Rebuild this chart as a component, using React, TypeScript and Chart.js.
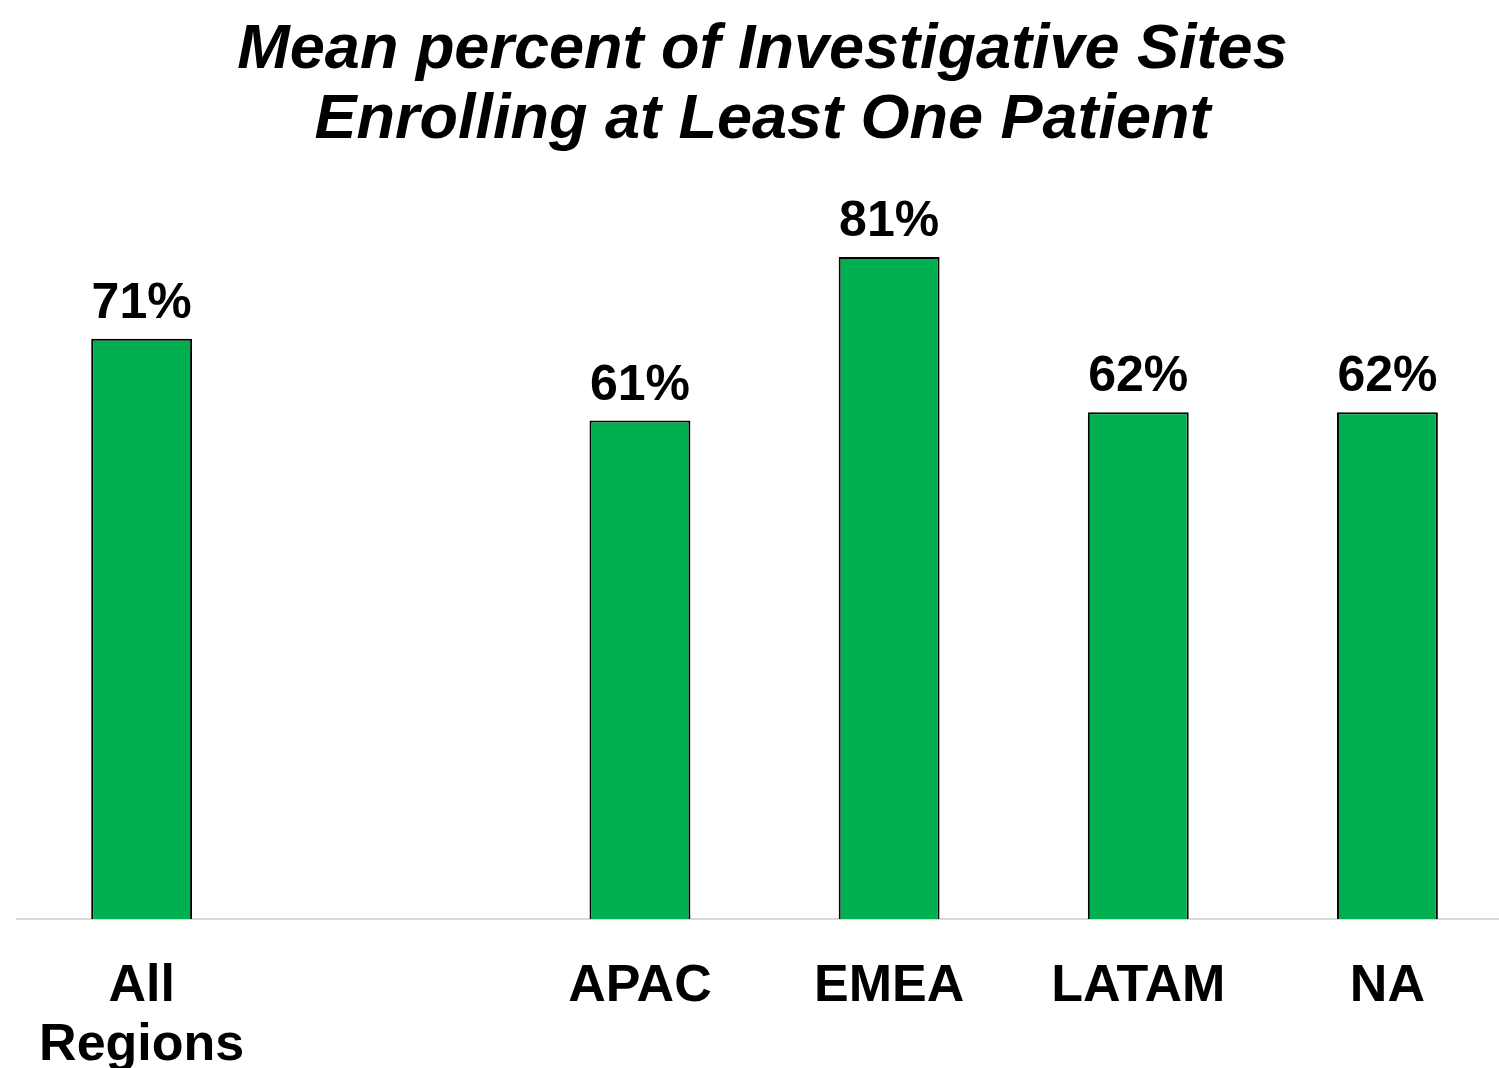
import React, { useEffect, useRef } from "react";
import { Chart, registerables } from "chart.js";

Chart.register(...registerables);

const categories: (string | string[])[] = [["All", "Regions"], "", "APAC", "EMEA", "LATAM", "NA"];
const values: (number | null)[] = [71, null, 61, 81, 62, 62];
const titleLines = ["Mean percent of Investigative Sites", "Enrolling at Least One Patient"];

const FONT = "'Liberation Sans', Arial, sans-serif";

const dataLabelPlugin = {
  id: "dataLabels",
  afterDatasetsDraw(chart: any) {
    const ctx = chart.ctx;
    const meta = chart.getDatasetMeta(0);
    ctx.save();
    ctx.font = `bold 50px ${FONT}`;
    ctx.fillStyle = "#000";
    ctx.textAlign = "center";
    ctx.textBaseline = "alphabetic";
    meta.data.forEach((bar: any, i: number) => {
      const v = values[i];
      if (v == null) return;
      ctx.fillText(`${v}%`, bar.x, bar.y - 21);
    });
    ctx.restore();
  },
};

export default function App() {
  const ref = useRef<HTMLCanvasElement | null>(null);
  useEffect(() => {
    document.body.style.margin = "0";
    const chart = new Chart(ref.current as HTMLCanvasElement, {
      type: "bar",
      data: {
        labels: categories,
        datasets: [
          {
            data: values,
            backgroundColor: "#00B050",
            borderColor: "#000000",
            borderWidth: 2,
            barPercentage: 0.405,
            categoryPercentage: 1,
          },
        ],
      },
      options: {
        responsive: false,
        animation: false,
        layout: { padding: { left: 13, right: 0, top: 16, bottom: 0 } },
        plugins: {
          legend: { display: false },
          tooltip: { enabled: false },
          title: {
            display: true,
            text: titleLines,
            color: "#000",
            font: { family: FONT, size: 63, weight: "bold", style: "italic", lineHeight: 70 / 63 },
            padding: { top: 0, bottom: 30 },
          },
        },
        scales: {
          x: {
            grid: { display: false, drawTicks: false },
            border: { display: true, color: "#d9d9d9", width: 2 },
            ticks: {
              color: "#000",
              padding: 38,
              font: { family: FONT, size: 52, weight: "bold", lineHeight: 59 / 52 },
              maxRotation: 0,
              autoSkip: false,
            },
            afterFit: (scale: any) => {
              scale.height = 149;
            },
          },
          y: {
            display: false,
            min: 0,
            max: 89.7,
          },
        },
      },
      plugins: [dataLabelPlugin],
    });
    return () => chart.destroy();
  }, []);
  return (
    <div
      style={{
        position: "fixed",
        left: 0,
        top: 0,
        width: 1499,
        height: 1068,
        overflow: "hidden",
        background: "#fff",
      }}
    >
      <canvas ref={ref} width={1512} height={1068} style={{ width: 1512, height: 1068, display: "block" }} />
    </div>
  );
}
